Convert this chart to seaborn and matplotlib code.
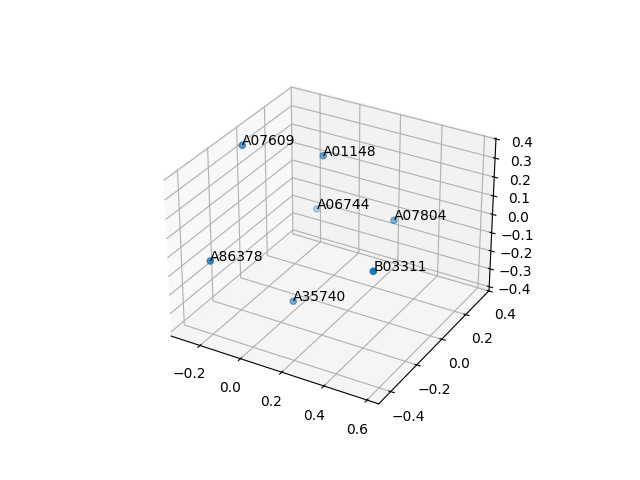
import matplotlib
matplotlib.use('Agg')  # Non-interactive backend
import matplotlib.pyplot as plt
import seaborn as sns
import pandas as pd

# Sample ids and their 3D coordinates
labels = ['A07609', 'A01148', 'A06744', 'A07804', 'A86378', 'B03311', 'A35740']
xs = [-0.2552, -0.0046, -0.1585, 0.2747, -0.1921, 0.4744, 0.0133]
ys = [-0.0881, 0.1282, 0.3099, 0.2385, -0.4113, -0.2485, -0.1287]
zs = [0.3795, 0.2764, -0.1659, -0.0511, -0.0157, 0.0458, -0.3492]

df = pd.DataFrame({'label': labels, 'x': xs, 'y': ys, 'z': zs})
color = sns.color_palette('tab10')[0]

fig = plt.figure(figsize=(6.4, 4.8), dpi=100)
ax = fig.add_subplot(projection='3d')
ax.scatter(df['x'], df['y'], df['z'], color=color)
for _, row in df.iterrows():
    ax.text(row['x'], row['y'], row['z'], row['label'])

ax.set_xlim(-0.3455, 0.6537)
ax.set_ylim(-0.4893, 0.4022)
ax.set_zlim(-0.4226, 0.4049)

fig.savefig('out.png', dpi=100)
plt.close()
